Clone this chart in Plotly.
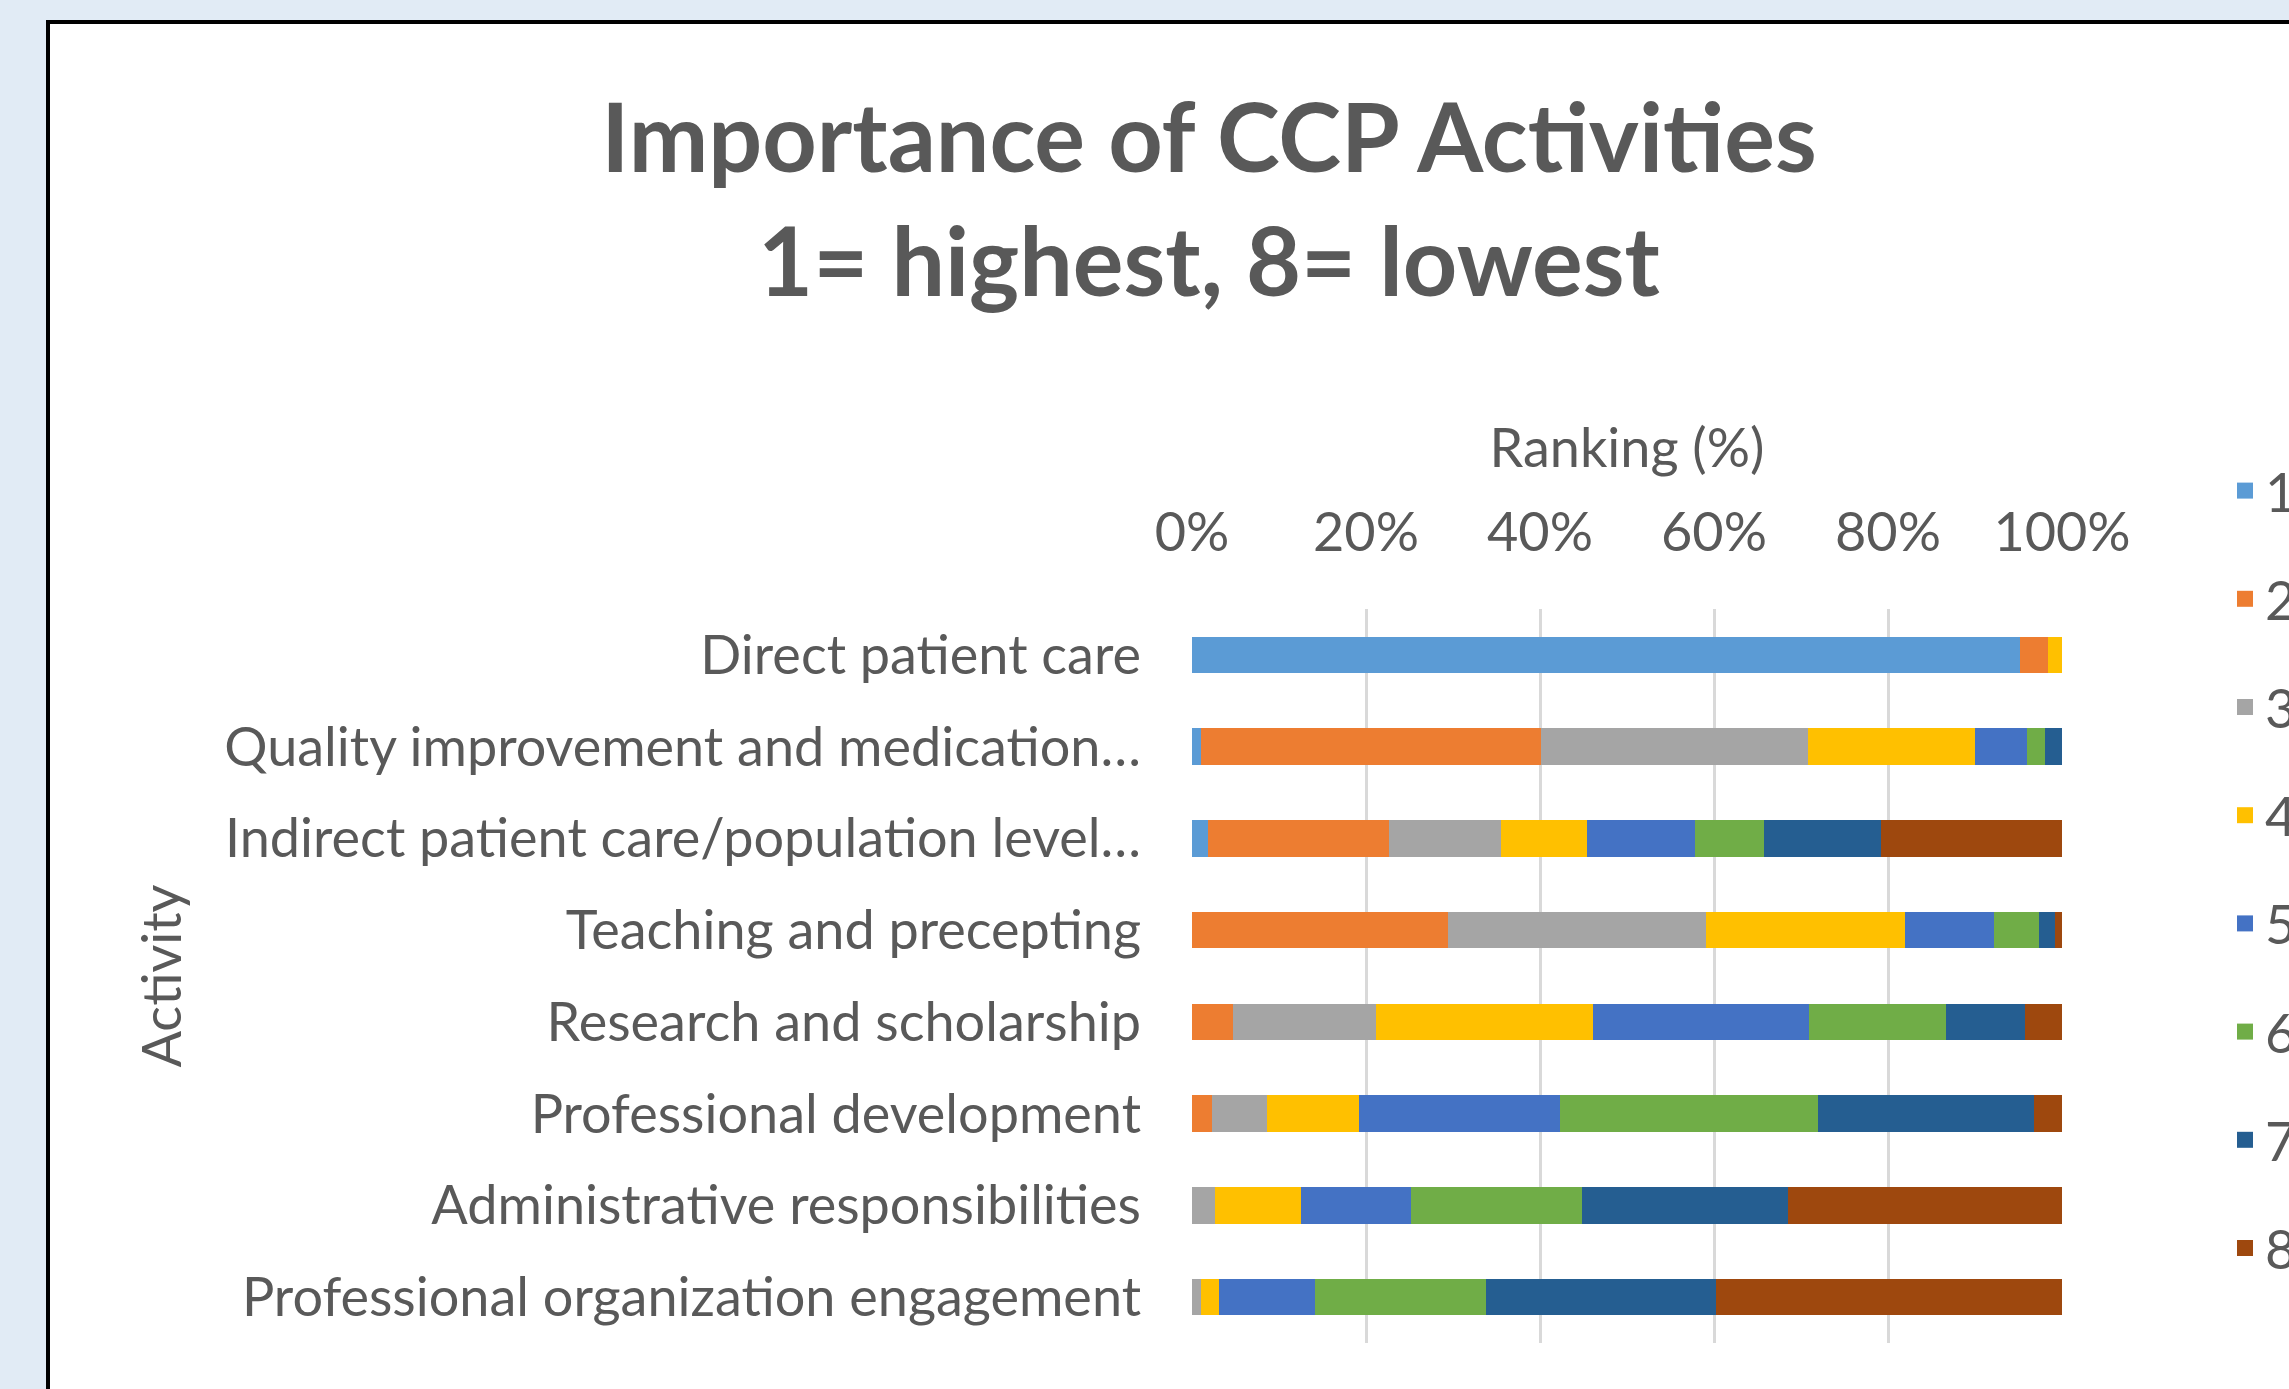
import plotly.graph_objects as go

categories = [
    "Direct patient care",
    "Quality improvement and medication…",
    "Indirect patient care/population level…",
    "Teaching and precepting",
    "Research and scholarship",
    "Professional development",
    "Administrative responsibilities",
    "Professional organization engagement",
]

rank_names = ["1", "2", "3", "4", "5", "6", "7", "8"]

rank1 = [95.2, 1.0, 1.8, 0.0, 0.0, 0.0, 0.0, 0.0]
rank2 = [3.2, 39.1, 20.9, 29.4, 4.7, 2.3, 0.0, 0.0]
rank3 = [0.0, 30.7, 12.8, 29.7, 16.4, 6.3, 2.6, 1.0]
rank4 = [1.6, 19.2, 9.9, 22.9, 25.0, 10.6, 9.9, 2.1]
rank5 = [0.0, 6.0, 12.4, 10.2, 24.8, 23.1, 12.7, 11.0]
rank6 = [0.0, 2.1, 8.0, 5.2, 15.8, 29.7, 19.6, 19.7]
rank7 = [0.0, 1.9, 13.4, 1.8, 9.1, 24.8, 23.7, 26.4]
rank8 = [0.0, 0.0, 20.8, 0.8, 4.2, 3.2, 31.5, 39.8]

series = [rank1, rank2, rank3, rank4, rank5, rank6, rank7, rank8]
colors = ["#5B9BD5", "#ED7D31", "#A5A5A5", "#FFC000",
          "#4472C4", "#70AD47", "#255E91", "#9E480E"]

x_tick_vals = [0, 20, 40, 60, 80, 100]
x_tick_text = ["0%", "20%", "40%", "60%", "80%", "100%"]

TEXT = "#595959"
FONT = "Lato"

W, H = 2289, 1389
L, R, T, B = 1192, 2062, 609, 1343

fig = go.Figure()
for name, vals, col in zip(rank_names, series, colors):
    fig.add_trace(go.Bar(
        y=categories, x=vals, name=name, orientation="h",
        marker=dict(color=col, line=dict(width=0)),
        legendgroup=name, showlegend=False,
    ))
# legend entries with larger square swatches
for name, col in zip(rank_names, colors):
    fig.add_trace(go.Scatter(
        x=[None], y=[None], mode="markers", name=name,
        marker=dict(symbol="square", size=22, color=col),
        legendgroup=name, showlegend=True, hoverinfo="skip",
    ))

def px_to_paper_x(px):
    return (px - L) / (R - L)

def px_to_paper_y(py):
    return (B - py) / (B - T)

fig.add_shape(
    type="rect", xref="paper", yref="paper", layer="below",
    x0=px_to_paper_x(48), x1=px_to_paper_x(2400),
    y0=px_to_paper_y(1500), y1=px_to_paper_y(22),
    fillcolor="white", line=dict(color="black", width=4),
)

fig.update_layout(
    width=W, height=H,
    margin=dict(l=L, r=W - R, t=T, b=H - B, autoexpand=False),
    paper_bgcolor="#E1EBF5",
    plot_bgcolor="rgba(0,0,0,0)",
    barmode="stack",
    bargap=0.6,
    font=dict(family=FONT, size=54, color=TEXT),
    title=dict(
        text="<b>Importance of CCP Activities<br>1= highest, 8= lowest</b>",
        font=dict(family=FONT, size=95, color=TEXT),
        x=1209 / W, xanchor="center", xref="container",
        y=1 - 172 / H, yanchor="top", yref="container",
    ),
    xaxis=dict(
        side="top", range=[0, 100], tickmode="array",
        tickvals=x_tick_vals, ticktext=x_tick_text,
        showgrid=True, gridcolor="#D9D9D9", gridwidth=2.5,
        zeroline=False, showline=False, ticks="",
        ticklabelstandoff=46,
        title=dict(text="Ranking (%)", standoff=13,
                   font=dict(family=FONT, size=54, color=TEXT)),
        tickfont=dict(family=FONT, size=54, color=TEXT),
        automargin=False,
    ),
    yaxis=dict(
        autorange="reversed", showgrid=False, zeroline=False,
        showline=False, ticks="", ticklabelstandoff=50,
        title=dict(text="Activity", standoff=25,
                   font=dict(family=FONT, size=54, color=TEXT)),
        tickfont=dict(family=FONT, size=54, color=TEXT),
        automargin=False,
    ),
    legend=dict(
        x=px_to_paper_x(2225), xanchor="left",
        y=px_to_paper_y(449), yanchor="top",
        traceorder="grouped", tracegroupgap=35,
        maxheight=1100, itemsizing="trace",
        font=dict(family=FONT, size=54, color=TEXT),
        bgcolor="rgba(0,0,0,0)",
    ),
    showlegend=True,
)

fig.write_html(
    "out.html",
    config={"displayModeBar": False},
    post_script="document.body.style.margin='0';document.body.style.overflow='hidden';",
)
